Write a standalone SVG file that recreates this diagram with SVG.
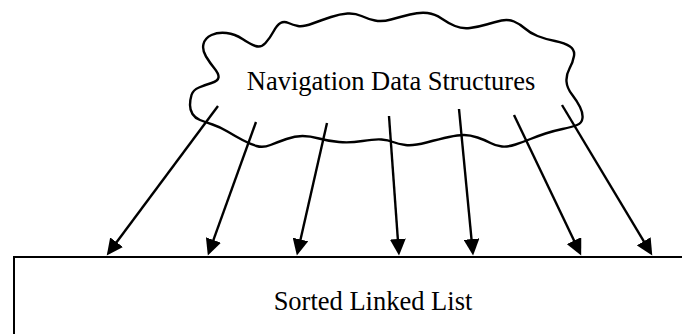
<svg xmlns="http://www.w3.org/2000/svg" width="682" height="334" viewBox="0 0 682 334">
  <style>
    .label { font-family: "Liberation Serif", "Times New Roman", serif; font-size: 26.5px; fill: #000; text-anchor: middle; }
    .outline { fill: #fff; stroke: #000; stroke-width: 2.4; }
    .box { fill: #fff; stroke: #000; stroke-width: 2; }
    .link { stroke: #000; stroke-width: 2.4; fill: none; marker-end: url(#head); }
  </style>
  <defs>
    <marker id="head" markerUnits="userSpaceOnUse" markerWidth="17" markerHeight="16" refX="1" refY="8" orient="auto">
      <path d="M0,0 L16.5,8 L0,16 Z" fill="#000"/>
    </marker>
  </defs>

  <rect width="682" height="334" fill="#fff"/>

  <!-- list box, running off the right and bottom edges -->
  <g id="sorted-linked-list">
    <rect class="box" x="14" y="257" width="700" height="120"/>
    <text class="label" x="373" y="309.5">Sorted Linked List</text>
  </g>

  <!-- cloud holding the navigation structures -->
  <g id="navigation-data-structures">
    <path class="outline" d="M190,105 Q190,100 191.5,95 Q193,90 199,87.5 Q205,85 211.5,83 Q218,81 218.5,77.5 Q219,74 214.5,68.5 Q210,63 206,56.5 Q202,50 203.5,44 Q205,38 211.5,35 Q218,32 226.5,33 Q235,34 242.5,39 Q250,44 255.5,46 Q261,48 265.5,43 Q270,38 273.5,31.5 Q277,25 280.5,23 Q284,21 288.5,23 Q293,25 298,26 Q303,27 312.5,23.5 Q322,20 331,17 Q340,14 347.5,13.5 Q355,13 361.5,16 Q368,19 375,20.5 Q382,22 391,19.5 Q400,17 410,14.5 Q420,12 427.5,13 Q435,14 441.5,18.5 Q448,23 455,26 Q462,29 470,28 Q478,27 486.5,24.5 Q495,22 501.5,20.5 Q508,19 514,21.5 Q520,24 525,28.5 Q530,33 537.5,36 Q545,39 555,41 Q565,43 570,46.5 Q575,50 574,56 Q573,62 569.5,68.5 Q566,75 566.5,81.5 Q567,88 572,94.5 Q577,101 580,107 Q583,113 582.5,118 Q582,123 577,125 Q572,127 562.5,129 Q553,131 545.5,133.5 Q538,136 530.5,139 Q523,142 515.5,144.5 Q508,147 502,146.5 Q496,146 490.5,143 Q485,140 477.5,137.5 Q470,135 464,135 Q458,135 449,137 Q440,139 426.5,142.5 Q413,146 405.5,145 Q398,144 393,142 Q388,140 381.5,139.5 Q375,139 362.5,141 Q350,143 339,142 Q328,141 319,138.5 Q310,136 302.5,136 Q295,136 286.5,139 Q278,142 270.5,145 Q263,148 256.5,146 Q250,144 242.5,140 Q235,136 227.5,131.5 Q220,127 212.5,124.5 Q205,122 200,120 Q195,118 192.5,114 Q190,110 190,105 Z"/>
    <text class="label" x="391" y="89.5">Navigation Data Structures</text>
  </g>

  <!-- pointers from the cloud down into the list -->
  <g id="connectors">
    <line class="link" x1="218" y1="106" x2="116" y2="243"/>
    <line class="link" x1="256" y1="122" x2="213.1" y2="240.9"/>
    <line class="link" x1="327" y1="123" x2="300.3" y2="240.4"/>
    <line class="link" x1="389" y1="116" x2="397.9" y2="240"/>
    <line class="link" x1="459" y1="109" x2="471.6" y2="240.1"/>
    <line class="link" x1="514" y1="115" x2="574.5" y2="241.5"/>
    <line class="link" x1="562" y1="105" x2="644.3" y2="242.1"/>
  </g>
</svg>
